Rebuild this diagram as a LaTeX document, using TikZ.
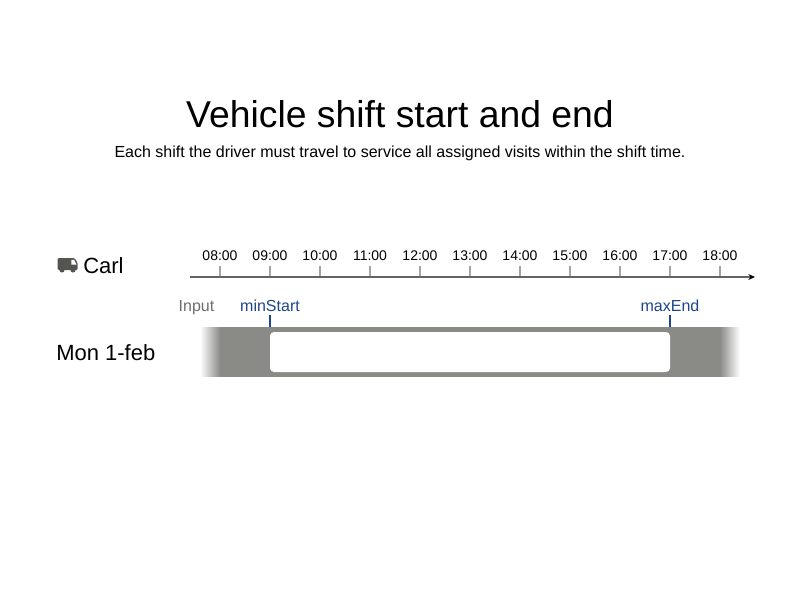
\documentclass[tikz,border=0pt]{standalone}
\usepackage{fontspec}
\setmainfont{Liberation Sans}
\usetikzlibrary{arrows.meta}
\definecolor{bandgray}{RGB}{138,139,134}
\definecolor{axisgray}{RGB}{100,100,100}
\definecolor{tickgray}{RGB}{165,165,165}
\definecolor{inputblue}{RGB}{30,70,140}
\definecolor{inputgray}{RGB}{110,110,110}
\definecolor{iconbody}{RGB}{85,85,80}
\pgfdeclarehorizontalshading{bandfadein}{100bp}{color(0bp)=(white); color(25bp)=(white); color(75bp)=(bandgray); color(100bp)=(bandgray)}
\pgfdeclarehorizontalshading{bandfadeout}{100bp}{color(0bp)=(bandgray); color(25bp)=(bandgray); color(75bp)=(white); color(100bp)=(white)}
\tikzset{
    hourlabel/.style={inner sep=0pt, font=\fontsize{10.5}{12}\selectfont, text=black},
    rowlabel/.style={inner sep=0pt, anchor=west, font=\fontsize{16.5}{19}\selectfont, text=black},
    inputlabel/.style={inner sep=0pt, anchor=base, font=\fontsize{12}{14}\selectfont, text=inputblue},
    hourtick/.style={draw=tickgray, line width=1pt},
    inputtick/.style={draw=inputblue, line width=1.2pt}
}
\begin{document}
\begin{tikzpicture}[x=0.75pt,y=-0.75pt]
    \useasboundingbox (0,0) rectangle (800,600);
    \fill[white] (0,0) rectangle (800,600);

    % Title
    \node[inner sep=0pt, font=\fontsize{28}{33}\selectfont] (title) at (400,114) {Vehicle shift start and end};
    \node[inner sep=0pt, font=\fontsize{12}{14}\selectfont] (subtitle) at (400,153.5) {Each shift the driver must travel to service all assigned visits within the shift time.};

    % Driver
    \fill[iconbody, rounded corners=1pt] (57.5,258) -- (74.5,258) -- (77.7,263) -- (77.7,270) -- (57.5,270) -- cycle;
    \fill[white] (71.3,259.8) -- (74,259.8) -- (76.5,264.5) -- (71.3,264.5) -- cycle;
    \fill[iconbody] (62,270) circle (1.9pt);
    \fill[iconbody] (73,270) circle (1.9pt);
    \node[rowlabel] (carl) at (83,265.5) {Carl};

    % Time axis
    \coordinate (axisstart) at (190,277);
    \coordinate (axisend) at (755,277);
    \foreach \hour [count=\i from 0] in {08,09,10,11,12,13,14,15,16,17,18} {
        \coordinate (tick\hour) at ({220+50*\i},277);
        \coordinate (tickup\hour) at ({220+50*\i},266);
        \draw[hourtick] (tick\hour) -- (tickup\hour);
        \node[hourlabel] (hour\hour) at ({220+50*\i},255.5) {\hour:00};
    }
    \draw[axisgray, line width=1pt, -{Stealth[length=5pt,width=4.5pt,color=black]}] (axisstart) -- (axisend);

    % Day band
    \shade[shading=bandfadein] (200,327) rectangle (220,376.7);
    \fill[bandgray] (219.5,327) rectangle (720.5,376.7);
    \shade[shading=bandfadeout] (720,327) rectangle (740,376.7);
    \fill[white, rounded corners=3pt] (270,332) rectangle (670,372);
    \node[rowlabel] (monday) at (56,352.5) {Mon 1-feb};

    % Input
    \node[inputlabel, text=inputgray] (input) at (196.5,311) {Input};
    \node[inputlabel] (minstart) at (270,311) {minStart};
    \node[inputlabel] (maxend) at (670,311) {maxEnd};
    \coordinate (minstarttick) at (270,315);
    \coordinate (minstartband) at (270,327);
    \coordinate (maxendtick) at (670,315);
    \coordinate (maxendband) at (670,327);
    \draw[inputtick] (minstarttick) -- (minstartband);
    \draw[inputtick] (maxendtick) -- (maxendband);
\end{tikzpicture}
\end{document}
